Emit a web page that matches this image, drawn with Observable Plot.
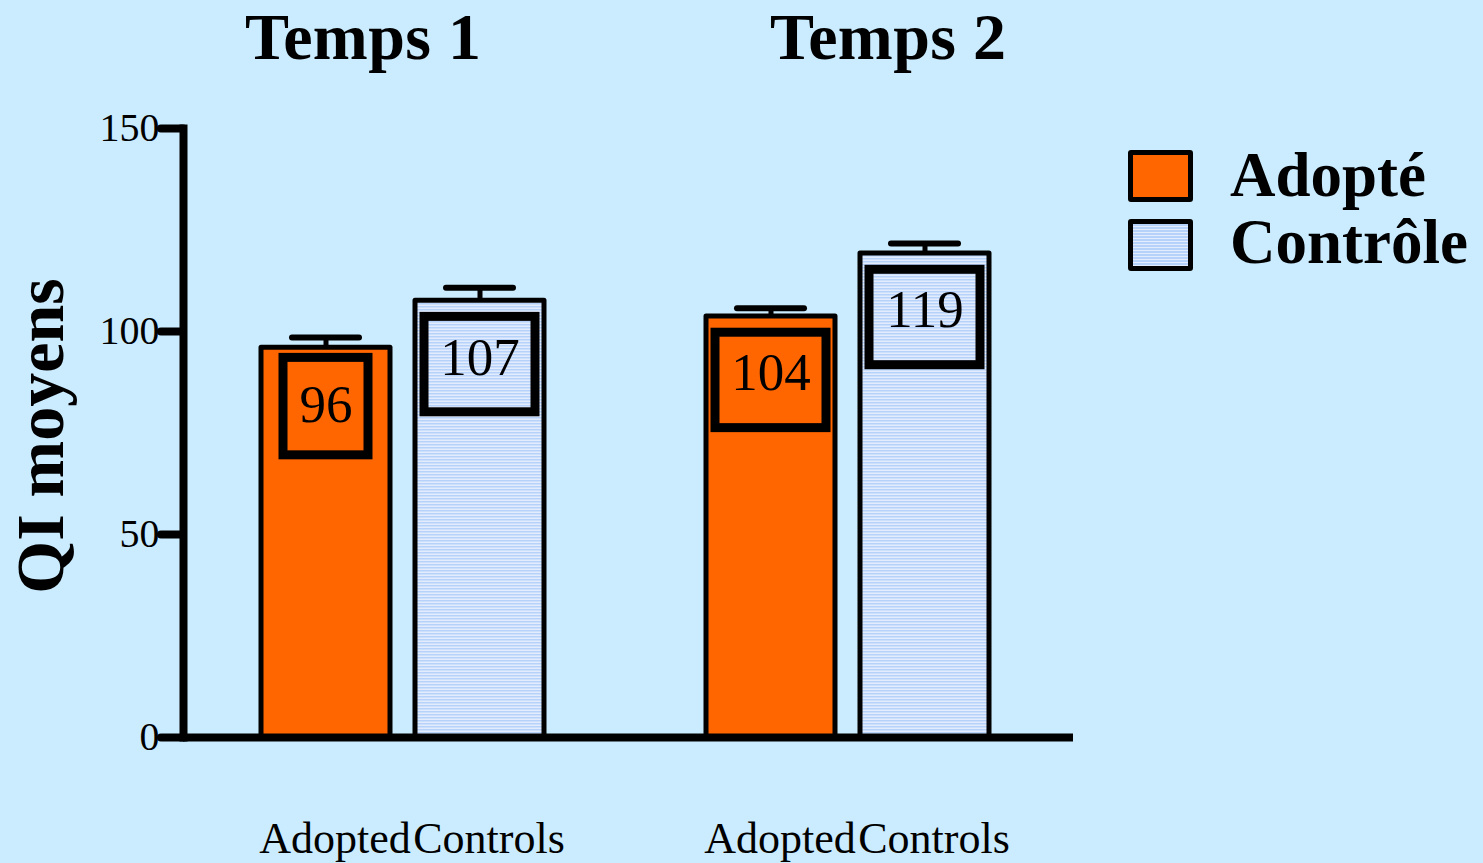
<!DOCTYPE html>
<html>
<head>
<meta charset="utf-8">
<script src="https://cdn.jsdelivr.net/npm/d3@7"></script>
<script src="https://cdn.jsdelivr.net/npm/@observablehq/plot@0.6"></script>
<style>
  html, body { margin: 0; padding: 0; background: #cbecff; }
  #wrap { position: relative; width: 1483px; height: 863px; overflow: hidden; background: #cbecff; font-family: "Liberation Serif", "DejaVu Serif", serif; color: #000; }
  #chart { position: absolute; left: 0; top: 0; }
  .title { position: absolute; font-size: 66px; font-weight: bold; line-height: 66px; white-space: nowrap; letter-spacing: 0.3px; }
  .sw { position: absolute; width: 65px; height: 52px; box-sizing: border-box; border: 5px solid #000; border-radius: 3px; }
  .lg { position: absolute; font-size: 63px; font-weight: bold; line-height: 63px; white-space: nowrap; }
  .ylab { position: absolute; left: 40px; top: 436px; font-size: 68px; font-weight: bold; line-height: 68px; white-space: nowrap; transform: translate(-50%, -50%) rotate(-90deg); }
</style>
</head>
<body>
<div id="wrap">
  <div id="chart"></div>
  <div class="title" style="left:245px; top:4px;">Temps 1</div>
  <div class="title" style="left:770px; top:4px;">Temps 2</div>
  <div class="ylab" id="ylab"></div>
  <div class="sw" style="left:1128px; top:150px; background:#ff6600;"></div>
  <div class="sw" style="left:1128px; top:219px; background: repeating-linear-gradient(to bottom, #b7d2fa 0px, #b7d2fa 1.5px, #e2ecfd 1.5px, #e2ecfd 3px);"></div>
  <div class="lg" style="left:1230px; top:144px;">Adopté</div>
  <div class="lg" style="left:1230px; top:211px;">Contrôle</div>
</div>
<script>
// Data
const temps = ["Temps 1", "Temps 2"];
const groups = ["Adopted", "Controls"];
const adoptedMeans = [96.0, 103.7];
const controlMeans = [107.6, 119.2];
const adoptedErr = [2.5, 2.0];
const controlErr = [3.2, 2.5];
const adoptedLabels = ["96", "104"];
const controlLabels = ["107", "119"];
const yTicks = [0, 50, 100, 150];
const yLabel = "QI moyens";

document.getElementById("ylab").textContent = yLabel;

const rows = [];
temps.forEach((t, i) => {
  rows.push({temps: t, group: groups[0], mean: adoptedMeans[i], err: adoptedErr[i], label: adoptedLabels[i]});
  rows.push({temps: t, group: groups[1], mean: controlMeans[i], err: controlErr[i], label: controlLabels[i]});
});

const font = "Liberation Serif";

const chart = Plot.plot({
  width: 1483,
  height: 863,
  marginLeft: 182,
  marginRight: 410,
  marginTop: 128,
  marginBottom: 126,
  style: {fontFamily: font, background: "transparent", color: "#000", overflow: "visible"},
  fx: {domain: temps, padding: 0, axis: null},
  x: {domain: groups, paddingInner: 0.161, paddingOuter: 0.5175, align: 0.485},
  y: {domain: [0, 150]},
  color: {domain: groups, range: ["#ff6600", "url(#hpat)"]},
  marks: [
    Plot.barY(rows, {fx: "temps", x: "group", y: "mean", fill: "group", stroke: "#000", strokeWidth: 5, strokeLinejoin: "round"}),
    Plot.ruleX(rows, {fx: "temps", x: "group", y1: "mean", y2: d => d.mean + d.err, stroke: "#000", strokeWidth: 5}),
    Plot.tickY(rows, {fx: "temps", x: "group", y: d => d.mean + d.err, stroke: "#000", strokeWidth: 6, strokeLinecap: "round", insetLeft: 31, insetRight: 31}),
    // boxes around value labels (narrower box for two-digit labels)
    Plot.barY(rows.filter(d => d.label.length === 2), {fx: "temps", x: "group", y1: d => d.mean - 2.5, y2: d => d.mean - 26.5, fill: "none", stroke: "#000", strokeWidth: 9, insetLeft: 22, insetRight: 22}),
    Plot.barY(rows.filter(d => d.label.length !== 2), {fx: "temps", x: "group", y1: d => d.mean - 4, y2: d => d.mean - 27.5, fill: "none", stroke: "#000", strokeWidth: 9, insetLeft: 9, insetRight: 9}),
    Plot.text(rows, {fx: "temps", x: "group", y: d => d.mean - 15.25, text: "label", fontSize: 53, dy: -5, fill: "#000"}),
    Plot.ruleY([0], {stroke: "#000", strokeWidth: 8}),
    Plot.frame({anchor: "left", facetAnchor: "left", stroke: "#000", strokeWidth: 8}),
    Plot.axisY({ticks: yTicks, tickSize: 22, tickPadding: 2, strokeWidth: 8, strokeLinecap: "round", fontSize: 40, label: null, tickFormat: d => String(d)}),
    Plot.axisX({tickSize: 0, tickPadding: 84, fontSize: 44, label: null, dx: 9})
  ]
});

// pattern for the control bars
const ns = "http://www.w3.org/2000/svg";
const defs = document.createElementNS(ns, "defs");
defs.innerHTML = '<pattern id="hpat" width="6" height="3" patternUnits="userSpaceOnUse">' +
  '<rect width="6" height="3" fill="#e2ecfd"></rect><rect width="6" height="1.5" fill="#b7d2fa"></rect></pattern>';
chart.insertBefore(defs, chart.firstChild);

document.getElementById("chart").appendChild(chart);
</script>
</body>
</html>
